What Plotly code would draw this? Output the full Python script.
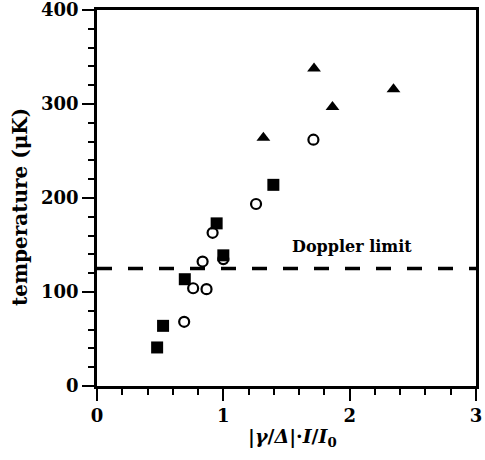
import plotly.graph_objects as go

# Data
sq_x = [0.476, 0.523, 0.695, 0.947, 1.0, 1.396]
sq_y = [41, 64, 113.6, 173, 139, 214]

circ_x = [0.690, 0.761, 0.867, 0.836, 0.915, 1.0, 1.259, 1.713]
circ_y = [68.3, 104, 103, 132.4, 163, 135, 193.6, 262]

tri_x = [1.317, 1.718, 1.864, 2.347]
tri_y = [264, 337.8, 296.8, 315.7]

doppler_limit = 125
x_range = [0, 3]
y_range = [0, 400]

FONT = "DejaVu Serif"

fig = go.Figure()
fig.add_trace(go.Scatter(x=circ_x, y=circ_y, mode="markers",
                         marker=dict(symbol="circle-open", size=10, color="black",
                                     line=dict(width=2.2, color="black"))))
fig.add_trace(go.Scatter(x=sq_x, y=sq_y, mode="markers",
                         marker=dict(symbol="square", size=12, color="black")))
fig.add_trace(go.Scatter(x=tri_x, y=tri_y, mode="markers",
                         marker=dict(symbol="triangle-up", size=12, color="black")))

fig.add_shape(type="line", xref="x", yref="y", x0=x_range[0], x1=x_range[1],
              y0=doppler_limit, y1=doppler_limit,
              line=dict(color="black", width=3.5, dash="15px,16px"))

fig.add_annotation(x=2.02, y=148, xref="x", yref="y", text="Doppler limit",
                   showarrow=False, font=dict(family=FONT, size=16, color="black", weight="bold"))

# axis titles as annotations for exact placement
fig.add_annotation(x=-0.203, y=0.476, xref="paper", yref="paper",
                   text="temperature (μK)", textangle=-90, showarrow=False,
                   xanchor="center", yanchor="middle",
                   font=dict(family=FONT, size=20, color="black", weight="bold"))
fig.add_annotation(x=0.515, y=-0.136, xref="paper", yref="paper",
                   text="|<i>γ</i>/<i>Δ</i>|·<i>I</i>/<i>I</i><sub>0</sub>", showarrow=False,
                   xanchor="center", yanchor="middle",
                   font=dict(family=FONT, size=19, color="black", weight="bold"))

axis_common = dict(showgrid=False, zeroline=False, showline=True, linecolor="black",
                   linewidth=2.5, mirror=True, ticks="outside", tickwidth=2,
                   ticklen=12, tickcolor="black", automargin=False,
                   ticklabeloverflow="allow",
                   tickfont=dict(family=FONT, size=18, color="black", weight="bold"))

fig.update_xaxes(range=x_range, dtick=1, tick0=0,
                 minor=dict(dtick=0.2, ticklen=6, tickwidth=1.5, tickcolor="black", ticks="outside"),
                 **axis_common)
fig.update_yaxes(range=y_range, dtick=100, tick0=0,
                 minor=dict(dtick=20, ticklen=6, tickwidth=1.5, tickcolor="black", ticks="outside"),
                 **axis_common)

fig.update_layout(width=485, height=460, margin=dict(l=97, r=9, t=10, b=74),
                  plot_bgcolor="white", paper_bgcolor="white", showlegend=False)

fig.write_html("out.html")
